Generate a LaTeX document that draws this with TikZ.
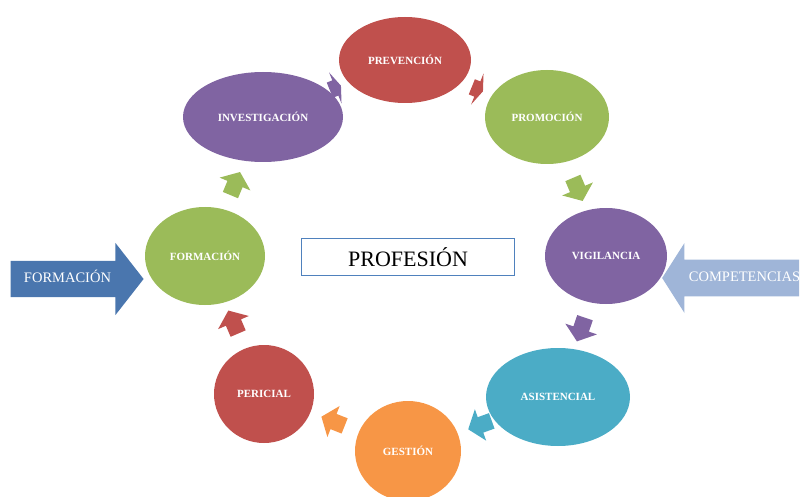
\documentclass[tikz,border=0pt]{standalone}
\usepackage{fontspec}
\setmainfont{Liberation Serif}
\usepackage{tikz}
\usetikzlibrary{shapes.geometric, shapes.arrows, backgrounds}

\definecolor{cred}{HTML}{C0504D}
\definecolor{cgreen}{HTML}{9BBB59}
\definecolor{cpurple}{HTML}{8064A2}
\definecolor{cteal}{HTML}{4BACC6}
\definecolor{corange}{HTML}{F79646}
\definecolor{cblue}{HTML}{4A76AE}
\definecolor{clight}{HTML}{9FB5D8}
\definecolor{cframe}{HTML}{4F81BD}

\begin{document}
\begin{tikzpicture}[x=1pt, y=-1pt, main/.style={ellipse, inner sep=0pt, text=white, font=\fontsize{11}{13}\selectfont\bfseries}, flow/.style={single arrow, inner xsep=0pt, inner ysep=8pt, minimum height=25pt, minimum width=33pt, single arrow head extend=8.5pt, single arrow tip angle=104, sloped, allow upside down}, flat/.style={flow, minimum height=12pt, single arrow tip angle=140}, big/.style={single arrow, inner xsep=0pt, inner ysep=11.5pt, text height=10pt, text depth=3pt, text=white, font=\fontsize{14.5}{16}\selectfont}]
            \useasboundingbox (0,0) rectangle (800,497);
            % nodes
            \node[main, fill=cred, minimum width=132pt, minimum height=86pt] (prevencion) at (405,60) {PREVENCIÓN};
            \node[main, fill=cgreen, minimum width=124pt, minimum height=94pt] (promocion) at (547,117) {PROMOCIÓN};
            \node[main, fill=cpurple, minimum width=122pt, minimum height=96pt] (vigilancia) at (606,256) {VIGILANCIA};
            \node[main, fill=cteal, minimum width=144pt, minimum height=98pt] (asistencial) at (558,397) {ASISTENCIAL};
            \node[main, fill=corange, minimum width=106pt, minimum height=100pt] (gestion) at (408,451) {GESTIÓN};
            \node[main, fill=cred, minimum width=100pt, minimum height=98pt] (pericial) at (264,394) {PERICIAL};
            \node[main, fill=cgreen, minimum width=120pt, minimum height=98pt] (formacion) at (205,256) {FORMACIÓN};
            \node[main, fill=cpurple, minimum width=160pt, minimum height=90pt] (investigacion) at (263,117) {INVESTIGACIÓN};

            \node[draw=cframe, line width=1.5pt, fill=white, minimum width=213pt, minimum height=37pt, font=\fontsize{22}{24}\selectfont] (profesion) at (408,257) {PROFESIÓN};

            \node[big, fill=cblue, minimum height=133pt, minimum width=72pt, single arrow head extend=18pt, single arrow tip angle=104] (formarrow) at (70,279) {\kern-5pt FORMACIÓN};
            \node[big, fill=clight, minimum height=137pt, minimum width=70pt, single arrow head extend=16.5pt, single arrow tip angle=115, shape border rotate=180] (comparrow) at (736.5,278) {COMPETENCIAS\kern-16pt};
            % edges
            \begin{scope}[on background layer]
            \path (investigacion.center) -- node[flat, fill=cpurple] (a1) {} (prevencion.center);
            \path (prevencion.center) -- node[flat, fill=cred] (a2) {} (promocion.center);
            \path (promocion.center) -- node[flow, fill=cgreen] (a3) {} (vigilancia.center);
            \path (vigilancia.center) -- node[flow, fill=cpurple] (a4) {} (asistencial.center);
            \path (asistencial.center) -- node[flow, fill=cteal] (a5) {} (gestion.center);
            \path (gestion.center) -- node[flow, fill=corange] (a6) {} (pericial.center);
            \path (pericial.center) -- node[flow, fill=cred] (a7) {} (formacion.center);
            \path (formacion.center) -- node[flow, fill=cgreen] (a8) {} (investigacion.center);
            \end{scope}
        \end{tikzpicture}
\end{document}
